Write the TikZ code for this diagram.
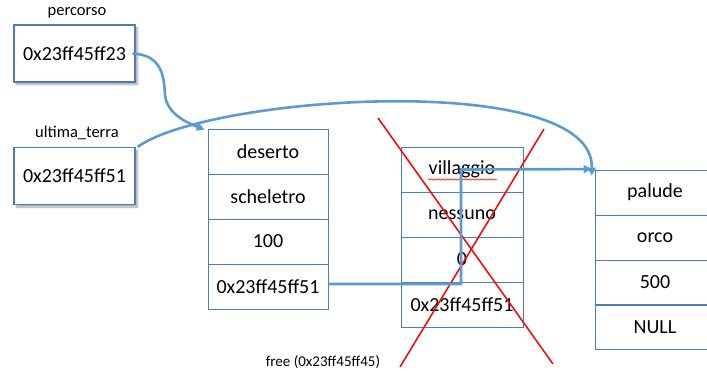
\documentclass[tikz,border=0pt]{standalone}
\usepackage{fontspec}
\setmainfont{Carlito}
\usetikzlibrary{arrows.meta,shadows.blur,decorations.pathmorphing}
\definecolor{cellblue}{HTML}{4A7DB9}
\definecolor{arrowblue}{HTML}{5B9BD5}
\newcommand{\cellfont}{\fontsize{20bp}{24bp}\selectfont}
\newcommand{\labfont}{\fontsize{16.5bp}{20bp}\selectfont}
\newcommand{\smallfont}{\fontsize{15bp}{18bp}\selectfont}
\tikzset{
  cell/.style={draw=cellblue, line width=0.8bp, minimum width=120bp, minimum height=45bp, inner sep=0pt, font=\cellfont},
  ptrbox/.style={draw=cellblue, line width=1.3bp, fill=white, minimum width=121bp, minimum height=57bp, inner sep=0pt, font=\cellfont,
    blur shadow={shadow xshift=2.5bp, shadow yshift=-2.5bp, shadow blur steps=6, shadow opacity=35}},
  lab/.style={inner sep=0pt, font=\labfont},
  link/.style={draw=arrowblue, line width=2.6bp, -{Triangle[length=8bp,width=8bp]}},
  cross/.style={draw=red, line width=1.5bp},
}
\begin{document}
\begin{tikzpicture}[x=1bp,y=-1bp]
\useasboundingbox (0,0) rectangle (707,370);
% pointer variables
\node[lab] (lperc) at (77,13) {percorso};
\node[ptrbox] (perc) at (74.5,53.5) {0x23ff45ff23};
\node[lab] (lult) at (77,133) {ultima\_terra};
\node[ptrbox] (ult) at (74.5,176) {0x23ff45ff51};
% deserto struct
\node[cell] (d1) at (268,151.5) {deserto};
\node[cell] (d2) at (268,196.5) {scheletro};
\node[cell] (d3) at (268,241.5) {100};
\node[cell] (d4) at (268,286.5) {0x23ff45ff51};
% villaggio struct (freed)
\node[cell, minimum width=122bp] (v1) at (462,169.5) {villaggio};
\node[cell, minimum width=122bp] (v2) at (462,214.5) {nessuno};
\node[cell, minimum width=122bp] (v3) at (462,259.5) {0};
\node[cell, minimum width=122bp] (v4) at (462,304.5) {0x23ff45ff51};
\draw[red, line width=0.5bp, decorate, decoration={snake, amplitude=0.7bp, segment length=2.6bp}]
  ([xshift=-34bp,yshift=-10bp]v1.center) -- ([xshift=35bp,yshift=-10bp]v1.center);
% palude struct
\node[cell] (p1) at (655,192.5) {palude};
\node[cell] (p2) at (655,237.5) {orco};
\node[cell] (p3) at (655,282.5) {500};
\node[cell] (p4) at (655,327) {NULL};
% free label
\node[inner sep=0pt, font=\smallfont] (free) at (323,362) {free (0x23ff45ff45)};
% red cross
\coordinate (xa1) at (378,118);
\coordinate (xa2) at (553,364);
\coordinate (xb1) at (544,129);
\coordinate (xb2) at (400,367);
\draw[cross] (xa1) -- (xa2);
\draw[cross] (xb1) -- (xb2);
% links
\draw[link] ([xshift=-3bp]perc.east) .. controls (163,55) and (164,78) .. (165,95)
  .. controls (167,113) and (185,122) .. ([xshift=-3bp,yshift=-1bp]d1.north west);
\draw[link] ([xshift=2bp]ult.north east) .. controls (210,95) and (595,70) .. ([xshift=-3bp,yshift=-6bp]p1.north west);
\draw[link] ([yshift=2.5bp]d4.east) -| ([xshift=-1bp]v1.center) -- ([xshift=-3bp,yshift=0.5bp]p1.north west);
\end{tikzpicture}
\end{document}
